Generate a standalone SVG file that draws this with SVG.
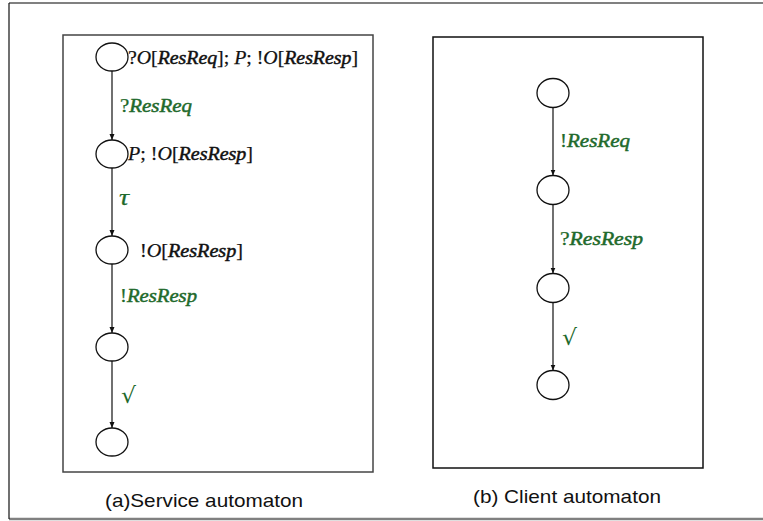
<svg xmlns="http://www.w3.org/2000/svg" width="763" height="521" viewBox="0 0 763 521">
<style>
.box{fill:#fff;stroke-width:1.5}
.st{fill:#fff;stroke:#111;stroke-width:1.3}
.edge{stroke:#111;stroke-width:1.2;fill:none;marker-end:url(#ah)}
.m{font-family:"Liberation Serif","DejaVu Serif",serif;font-size:19px;fill:#111;stroke:#111;stroke-width:0.25}
.g{fill:#1f6a2c;stroke:#1f6a2c}
.i{font-style:italic}
.b{font-style:italic;stroke-width:0.5}
.chk{font-family:"DejaVu Sans",sans-serif;font-size:22px;fill:#1f6a2c}
.cap{font-family:"Liberation Sans",Arial,sans-serif;font-size:19px;fill:#111}
</style>
<defs>
<marker id="ah" markerUnits="userSpaceOnUse" markerWidth="6" markerHeight="6" refX="6" refY="3" orient="auto">
<path d="M0,0.5 L6,3 L0,5.5 z" fill="#111"/>
</marker>
</defs>
<rect width="763" height="521" fill="#fff"/>
<g id="frame">
<line x1="9" y1="3" x2="763" y2="3" stroke="#808080" stroke-width="2"/>
<line x1="9" y1="519" x2="763" y2="519" stroke="#808080" stroke-width="2.5"/>
<line x1="9" y1="3" x2="9" y2="519" stroke="#111" stroke-width="1.2"/>
</g>
<g id="boxA"><rect class="box" x="63" y="35" width="310" height="437" stroke="#444"/></g>
<g id="boxB"><rect class="box" x="433" y="37" width="270" height="431" stroke="#111"/></g>

<g id="connectors">
<line class="edge" x1="112" y1="71" x2="112" y2="140"/>
<line class="edge" x1="112" y1="168" x2="112" y2="236"/>
<line class="edge" x1="112" y1="264" x2="112" y2="333"/>
<line class="edge" x1="112" y1="361" x2="112" y2="428"/>
<line class="edge" x1="553" y1="107.5" x2="553" y2="175.5"/>
<line class="edge" x1="553" y1="204.5" x2="553" y2="273.5"/>
<line class="edge" x1="553" y1="302.5" x2="553" y2="370.5"/>
</g>

<g id="labels">
<text class="m g" x="120" y="112" textLength="72" lengthAdjust="spacingAndGlyphs">?<tspan class="b">ResReq</tspan></text>
<text class="m g i" x="119" y="205" textLength="10" lengthAdjust="spacingAndGlyphs" style="font-size:24px">τ</text>
<text class="m g" x="120" y="302" textLength="77" lengthAdjust="spacingAndGlyphs">!<tspan class="b">ResResp</tspan></text>
<text class="chk" x="121" y="403" textLength="15" lengthAdjust="spacingAndGlyphs">√</text>
<text class="m g" x="560" y="147" textLength="70" lengthAdjust="spacingAndGlyphs">!<tspan class="b">ResReq</tspan></text>
<text class="m g" x="560" y="245" textLength="83" lengthAdjust="spacingAndGlyphs">?<tspan class="b">ResResp</tspan></text>
<text class="chk" x="562" y="345" textLength="15" lengthAdjust="spacingAndGlyphs">√</text>
</g>

<g id="sA1"><ellipse class="st" cx="112" cy="57" rx="16" ry="14"/>
<text class="m" x="128" y="63.5" textLength="230" lengthAdjust="spacingAndGlyphs">?<tspan class="i">O</tspan>[<tspan class="b">ResReq</tspan>]; <tspan class="i">P</tspan>; !<tspan class="i">O</tspan>[<tspan class="b">ResResp</tspan>]</text></g>
<g id="sA2"><ellipse class="st" cx="112" cy="154" rx="16" ry="14"/>
<text class="m" x="128" y="159.5" textLength="125" lengthAdjust="spacingAndGlyphs"><tspan class="i">P</tspan>; !<tspan class="i">O</tspan>[<tspan class="b">ResResp</tspan>]</text></g>
<g id="sA3"><ellipse class="st" cx="112" cy="250" rx="16" ry="14"/>
<text class="m" x="140" y="256.5" textLength="103" lengthAdjust="spacingAndGlyphs">!<tspan class="i">O</tspan>[<tspan class="b">ResResp</tspan>]</text></g>
<g id="sA4"><ellipse class="st" cx="112" cy="347" rx="16" ry="14"/></g>
<g id="sA5"><ellipse class="st" cx="112" cy="442" rx="16" ry="14"/></g>

<g id="sB1"><ellipse class="st" cx="553" cy="93" rx="16" ry="14.5"/></g>
<g id="sB2"><ellipse class="st" cx="553" cy="190" rx="16" ry="14.5"/></g>
<g id="sB3"><ellipse class="st" cx="553" cy="288" rx="16" ry="14.5"/></g>
<g id="sB4"><ellipse class="st" cx="553" cy="385" rx="16" ry="14.5"/></g>

<g id="captions">
<text class="cap" x="105" y="507" textLength="198" lengthAdjust="spacingAndGlyphs">(a)Service automaton</text>
<text class="cap" x="473" y="503" textLength="188" lengthAdjust="spacingAndGlyphs">(b) Client automaton</text>
</g>
</svg>
